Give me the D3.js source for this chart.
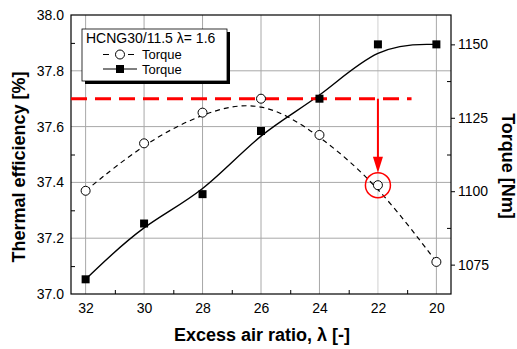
<!DOCTYPE html>
<html><head><meta charset="utf-8">
<script src="https://cdn.jsdelivr.net/npm/d3@7"></script>
<style>body{margin:0;background:#fff}svg{display:block}text{font-family:"Liberation Sans",Arial,sans-serif}</style>
</head><body><svg id="c" width="517" height="349"></svg>
<script>
const lambdas = [32, 30, 28, 26, 24, 22, 20];
const efficiency = [37.37, 37.54, 37.65, 37.70, 37.57, 37.39, 37.115];
const torque = [1070, 1089, 1099, 1120.5, 1131.5, 1150, 1150];
const xTicks = [32, 30, 28, 26, 24, 22, 20];
const yLeftTicks = [37.0, 37.2, 37.4, 37.6, 37.8, 38.0];
const yRightTicks = [1075, 1100, 1125, 1150];
const refEfficiency = 37.7;
const refRange = [32.5, 20.85];
const highlightLambda = 22;
const legendTitle = "HCNG30/11.5 λ= 1.6";
const legendLabels = ["Torque", "Torque"];

const svg = d3.select("#c");
const L = 71, R = 451, T = 15, B = 294;
const x = d3.scaleLinear().domain([32.5, 19.5]).range([L, R]);
const yL = d3.scaleLinear().domain([37.0, 38.0]).range([B, T]);
const yR = d3.scaleLinear().domain([1065, 1160]).range([B, T]);

// grid
const grid = svg.append("g").attr("stroke", "#a8a8a8").attr("stroke-width", 1);
xTicks.forEach(v => grid.append("line").attr("x1", x(v)).attr("x2", x(v)).attr("y1", T).attr("y2", B)
  .attr("stroke", v === highlightLambda ? "#d0d0d0" : "#a8a8a8"));
[37.2, 37.4, 37.6, 37.8].forEach(v => grid.append("line").attr("x1", L).attr("x2", R).attr("y1", yL(v)).attr("y2", yL(v)));

// axes
const fs = 14;
const ax = svg.append("g").attr("transform", `translate(0,${B})`)
  .call(d3.axisBottom(x).tickValues(xTicks).tickSize(0).tickPadding(9).tickFormat(d3.format("d")));
const axMinor = svg.append("g").attr("transform", `translate(0,${B})`)
  .call(d3.axisBottom(x).tickValues([31, 29, 27, 25, 23, 21]).tickSize(-4).tickFormat(""));
const ayL = svg.append("g").attr("transform", `translate(${L},0)`)
  .call(d3.axisLeft(yL).tickValues(yLeftTicks).tickSize(0).tickPadding(7).tickFormat(d3.format(".1f")));
const ayLMinor = svg.append("g").attr("transform", `translate(${L},0)`)
  .call(d3.axisLeft(yL).tickValues([37.1, 37.3, 37.5, 37.7, 37.9]).tickSize(-4).tickFormat(""));
const ayR = svg.append("g").attr("transform", `translate(${R},0)`)
  .call(d3.axisRight(yR).tickValues(yRightTicks).tickSize(4).tickPadding(3).tickFormat(d3.format("d")));
const ayRMinor = svg.append("g").attr("transform", `translate(${R},0)`)
  .call(d3.axisRight(yR).tickValues([1087.5, 1112.5, 1137.5]).tickSize(-4).tickFormat(""));
[ax, axMinor, ayL, ayLMinor, ayR, ayRMinor].forEach(g => {
  g.select(".domain").remove();
  g.selectAll("text").attr("font-size", fs).attr("fill", "#000").attr("font-family", "Liberation Sans, Arial, sans-serif");
  g.selectAll("line").attr("stroke", "#000");
});
// frame
svg.append("rect").attr("x", L).attr("y", T).attr("width", R - L).attr("height", B - T)
  .attr("fill", "none").attr("stroke", "#000").attr("stroke-width", 1.2);

// titles
svg.append("text").attr("x", (L + R) / 2 + 1).attr("y", 341).attr("text-anchor", "middle")
  .attr("font-size", 18).attr("font-weight", "bold").text("Excess air ratio, λ [-]");
svg.append("text").attr("transform", `translate(25,167) rotate(-90)`).attr("text-anchor", "middle")
  .attr("font-size", 18).attr("font-weight", "bold").text("Thermal efficiency [%]");
svg.append("text").attr("transform", `translate(502,166) rotate(90)`).attr("text-anchor", "middle")
  .attr("font-size", 18).attr("font-weight", "bold").text("Torque [Nm]");

// curves
const effPts = lambdas.map((l, i) => [x(l), yL(efficiency[i])]);
const torPts = lambdas.map((l, i) => [x(l), yR(torque[i])]);
const line = d3.line().curve(d3.curveBasis);
svg.append("path").attr("d", line(effPts)).attr("fill", "none").attr("stroke", "#000")
  .attr("stroke-width", 1.2).attr("stroke-dasharray", "5,4");
svg.append("path").attr("d", line(torPts)).attr("fill", "none").attr("stroke", "#000").attr("stroke-width", 1.4);

// red reference
svg.append("line").attr("x1", x(refRange[0])).attr("x2", x(refRange[1]))
  .attr("y1", yL(refEfficiency)).attr("y2", yL(refEfficiency))
  .attr("stroke", "#ff0000").attr("stroke-width", 3).attr("stroke-dasharray", "16,8");

// markers
svg.append("g").selectAll("circle").data(effPts).join("circle")
  .attr("cx", d => d[0]).attr("cy", d => d[1]).attr("r", 4.5)
  .attr("fill", "#fff").attr("stroke", "#000").attr("stroke-width", 1);
svg.append("g").selectAll("rect").data(torPts).join("rect")
  .attr("x", d => d[0] - 4).attr("y", d => d[1] - 4).attr("width", 8).attr("height", 8).attr("fill", "#000");

// arrow & highlight circle
const hi = lambdas.indexOf(highlightLambda);
const hx = x(highlightLambda), hy = yL(efficiency[hi]), hr = 12.5;
svg.append("line").attr("x1", hx).attr("x2", hx).attr("y1", yL(refEfficiency)).attr("y2", hy - hr - 12)
  .attr("stroke", "#ff0000").attr("stroke-width", 2);
svg.append("path").attr("d", `M${hx - 5},${hy - hr - 16} L${hx + 5},${hy - hr - 16} L${hx},${hy - hr} Z`)
  .attr("fill", "#ff0000");
svg.append("circle").attr("cx", hx).attr("cy", hy).attr("r", hr)
  .attr("fill", "none").attr("stroke", "#ff0000").attr("stroke-width", 1.5);

// legend
const lg = svg.append("g");
lg.append("rect").attr("x", 85).attr("y", 32).attr("width", 145).attr("height", 52).attr("fill", "#000");
lg.append("rect").attr("x", 82).attr("y", 29).attr("width", 145).attr("height", 52)
  .attr("fill", "#fff").attr("stroke", "#000").attr("stroke-width", 0.8);
lg.append("text").attr("x", 86).attr("y", 43).attr("font-size", fs).text(legendTitle);
const r1 = 54.5, r2 = 69;
lg.append("line").attr("x1", 103).attr("x2", 137).attr("y1", r1).attr("y2", r1)
  .attr("stroke", "#000").attr("stroke-width", 1.2).attr("stroke-dasharray", "6,6.5");
lg.append("circle").attr("cx", 120).attr("cy", r1).attr("r", 4.5).attr("fill", "#fff").attr("stroke", "#000");
lg.append("line").attr("x1", 103).attr("x2", 137).attr("y1", r2).attr("y2", r2)
  .attr("stroke", "#000").attr("stroke-width", 1.2);
lg.append("rect").attr("x", 116).attr("y", r2 - 4).attr("width", 8).attr("height", 8).attr("fill", "#000");
lg.append("text").attr("x", 142).attr("y", r1 + 4.5).attr("font-size", 13).text(legendLabels[0]);
lg.append("text").attr("x", 142).attr("y", r2 + 4.5).attr("font-size", 13).text(legendLabels[1]);
</script></body></html>
